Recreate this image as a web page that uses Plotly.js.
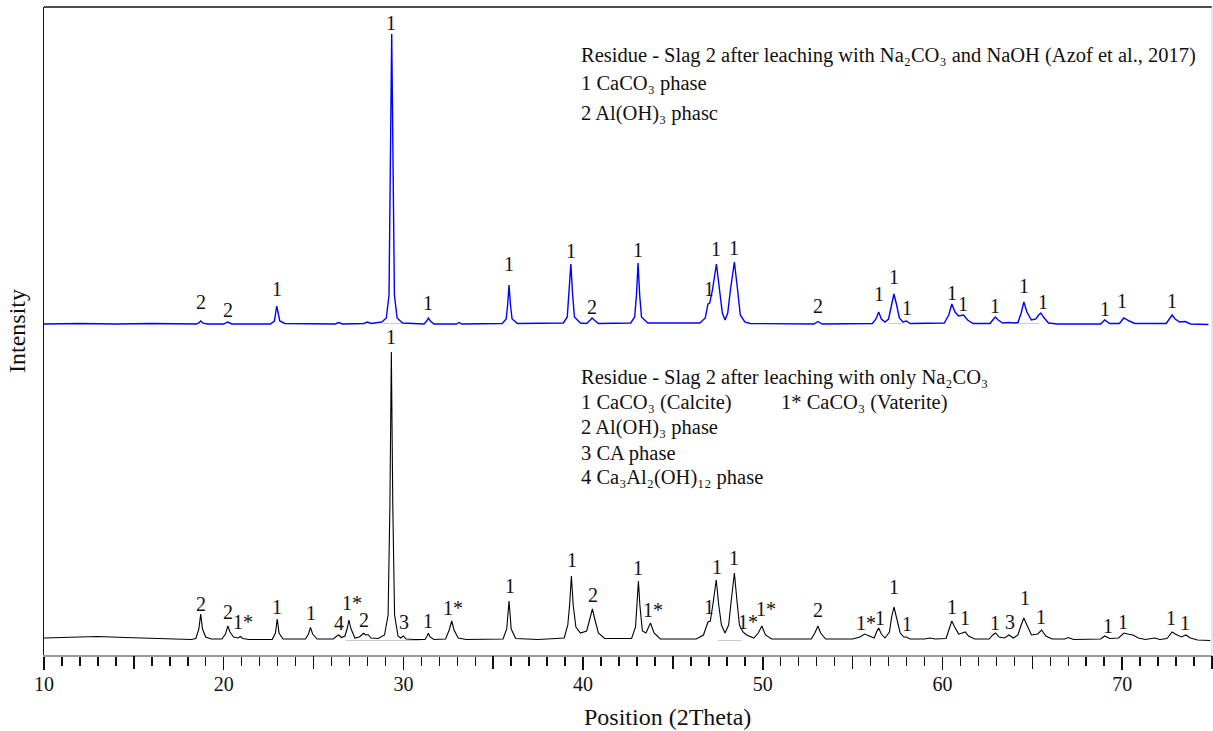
<!DOCTYPE html>
<html>
<head>
<meta charset="utf-8">
<script src="https://cdn.plot.ly/plotly-3.0.1.min.js"></script>
<style>html,body{margin:0;padding:0;background:#fff;}#chart{width:1213px;height:731px;}</style>
</head>
<body>
<div id="chart"></div>
<script>
// ---- Upper pattern (blue): leaching with Na2CO3 and NaOH ----
const blueX = [10,12,14,16,18.45,18.6,18.72,18.85,19.1,20.0,20.22,20.45,22.6,22.82,22.9,22.95,23.02,23.12,23.4,26.2,26.4,26.6,27.8,28.0,28.2,28.8,29.05,29.2,29.28,29.35,29.42,29.5,29.65,29.95,31.15,31.3,31.39,31.5,31.7,32.95,33.1,33.25,35.5,35.72,35.8,35.88,35.96,36.05,36.35,38.9,39.12,39.22,39.32,39.42,39.52,39.85,40.2,40.4,40.5,40.62,40.85,42.65,42.87,42.97,43.06,43.15,43.25,43.6,46.5,46.8,46.95,47.05,47.2,47.42,47.6,47.75,47.9,48.05,48.2,48.42,48.6,48.75,49.0,49.3,52.85,53.07,53.3,56.1,56.3,56.45,56.6,56.8,57.0,57.15,57.3,57.45,57.6,57.8,57.99,58.2,60.1,60.35,60.52,60.7,60.9,61.17,61.4,61.7,62.65,62.8,62.94,63.1,63.35,63.7,64.0,64.2,64.38,64.53,64.7,64.95,65.2,65.35,65.48,65.62,65.9,66.4,68.8,69.03,69.3,69.85,70.09,70.4,70.7,72.45,72.65,72.78,72.95,73.2,73.52,73.8,74.8];
const blueY = [331,331.5,331,331.5,331,331.8,334,331.8,331,331,333,331,331,334,343,349,343,334,331.5,331,332.5,331,331.5,333,331.5,333,337,360,500,621,500,360,337,332,331,334,337,334,331,331,332.5,331,331.5,336,350,370,350,336,331.5,332,338,360,391,360,338,332,331.5,335,337,335,331.5,332,338,360,392,360,338,332,332,337,351,352,365,391,365,342,335,342,365,393,365,340,333,331.5,331,333.5,331,331.5,336,343,336,333,336,350,361,350,337,333,334,331.5,332,340,351,343,339,340,335,331.5,331.5,335,338,335,332,332.5,332,332.5,342,353,343,335,336,340,342,338,332,331,331,335,331.5,331.5,337,334,331.5,331.5,336,340,336,333,333.5,331,330.5];

// ---- Lower pattern (black): leaching with only Na2CO3 ----
const blackX = [10,11.5,13,14.5,16,18.2,18.45,18.62,18.72,18.82,19.0,19.3,19.9,20.1,20.23,20.35,20.55,20.8,20.93,21.05,21.4,22.7,22.88,22.98,23.08,23.3,24.55,24.72,24.83,24.95,25.2,26.1,26.3,26.41,26.55,26.75,26.88,26.97,27.07,27.3,27.55,27.79,27.9,28.03,28.2,28.6,28.95,29.15,29.25,29.33,29.41,29.51,29.7,29.85,30.0,30.15,30.6,31.2,31.32,31.39,31.48,31.7,32.35,32.55,32.69,32.82,33.05,33.5,35.55,35.75,35.88,36.0,36.25,37.5,38.5,38.95,39.15,39.25,39.35,39.45,39.6,39.85,40.2,40.38,40.52,40.65,40.85,41.2,42.7,42.92,43.0,43.08,43.16,43.3,43.5,43.75,43.95,44.3,46.3,46.7,46.95,47.08,47.22,47.41,47.55,47.7,47.9,48.1,48.25,48.42,48.56,48.7,48.9,49.1,49.5,49.75,49.95,50.15,50.5,52.7,52.9,53.07,53.22,53.5,55.0,55.4,55.67,55.9,56.2,56.33,56.45,56.6,56.8,57.05,57.17,57.3,57.45,57.65,57.85,57.99,58.2,59.0,59.3,59.6,60.2,60.38,60.52,60.68,60.9,61.1,61.27,61.45,61.8,62.6,62.8,62.96,63.15,63.45,63.7,63.95,64.2,64.38,64.53,64.7,64.95,65.3,65.52,65.75,66.1,66.8,67.0,67.3,68.8,69.03,69.3,69.8,70.1,70.3,70.6,70.9,71.3,71.8,72.1,72.5,72.68,72.78,72.95,73.3,73.54,73.8,74.2,74.9];
const blackY = [17,18,18.5,17.5,16.5,15.5,16.5,26,41,26,18,16,16,21,29,23,18,17,18.5,16.5,15.5,15.5,22,36,22,16,16,21,27.7,21,16,16,19,20,17.5,19,27,35,27,17,18,21.7,20,20.5,17,16.5,20,40,150,303,150,40,19,17,19,16,15.5,15.5,19,21.7,18,15.5,16,25,34,25,17,15.5,16,26,54,26,16.5,15.5,16.5,17,30,50,79,50,28,22,24,36,46,36,22,16.5,16.5,28,50,74,50,24,22,32,22,16,16,20,33,34,50,75,50,30,22,30,55,82,55,30,23,20,17,22,29,20,16,16,22,29,22,16,16,18,21,19,17,23,27,21,17,23,38,48,36,22,18,18,16,16,17,16,16.5,26,34,28,21,22,23,19,16,16,20,22,18,17,20,17,20,30,37,30,20,21,25,19,16,16,17.5,15.5,16,19,16.5,17,22,21,20,17,15.5,17,15.5,16.5,21,23,21,18,20,17,15,14.5];

// ---- Faint background segments drawn under some peaks (null = gap) ----
const bgBlueX = [28.9,29.9,null,57.0,57.9,null,64.1,65.4];
const bgBlueY = [331.5,331.5,null,331.5,331.5,null,331.5,331.5];
const bgBlackX = [26.8,30.9,null,47.5,48.8];
const bgBlackY = [14.5,14.5,null,14.5,14.5];

// ---- Peak labels ----
const blueLblX = [18.72,20.22,22.95,29.33,31.39,35.88,39.32,40.52,43.06,47.0,47.42,48.42,53.07,56.47,57.3,58.0,60.55,61.17,62.94,64.53,65.59,69.03,69.97,72.78];
const blueLblY = [353,345,366,632,352,391,404,348,405,366,406,407,349,361,378,347,362,351,349,369,353,346,354,354];
const blueLblT = ['2','2','1','1','1','1','1','2','1','1','1','1','2','1','1','1','1','1','1','1','1','1','1','1'];

const blackLblX = [18.72,20.22,21.06,22.97,24.84,26.41,27.12,27.83,29.33,30.04,31.39,32.78,35.92,39.37,40.54,43.06,43.87,47.0,47.43,48.4,49.18,50.17,53.09,55.72,56.5,57.31,58.02,60.55,61.28,62.95,63.74,64.57,65.5,69.2,70.07,72.74,73.48];
const blackLblY = [51,43,33,48,42,32,52,35,318,33,34,47,69,95,60,87,45,48,88,97,33,46,45,32,37,68,31,48,37,32,33,57,38,29,33,37,32];
const blackLblT = ['2','2','1*','1','1','4','1*','2','1','3','1','1*','1','1','2','1','1*','1','1','1','1*','1*','2','1*','1','1','1','1','1','1','3','1','1','1','1','1','1'];

// ---- Legend texts ----
const legendText = [
  'Residue - Slag 2 after leaching with Na₂CO₃ and NaOH (Azof et al., 2017)',
  '1 CaCO₃ phase',
  '2 Al(OH)₃ phasc',
  'Residue - Slag 2 after leaching with only Na₂CO₃',
  '1 CaCO₃ (Calcite)',
  '1* CaCO₃ (Vaterite)',
  '2 Al(OH)₃ phase',
  '3 CA phase',
  '4 Ca₃Al₂(OH)₁₂ phase'
];
const legendX = [39.8,39.8,39.8,39.8,39.8,50.93,39.8,39.8,39.8];
const legendY = [600,572,542,278,253,253,228,202,178];

// ---- Axis ticks ----
const labelTicks = [10,20,30,40,50,60,70];
const midTicks = [15,25,35,45,55,65,75];

const FONT = 'Liberation Serif, Times New Roman, serif';

const annotations = [];
blueLblX.forEach((x,i)=>annotations.push({x:x,y:blueLblY[i],text:blueLblT[i],xref:'x',yref:'y',showarrow:false,xanchor:'center',yanchor:'middle',font:{family:FONT,size:20,color:'#111'}}));
blackLblX.forEach((x,i)=>annotations.push({x:x,y:blackLblY[i],text:blackLblT[i],xref:'x',yref:'y',showarrow:false,xanchor:'center',yanchor:'middle',font:{family:FONT,size:20,color:'#111'}}));
legendText.forEach((t,i)=>annotations.push({x:legendX[i],y:legendY[i],text:t,xref:'x',yref:'y',showarrow:false,xanchor:'left',yanchor:'middle',align:'left',font:{family:FONT,size:20.5,color:'#111'}}));
// x-axis title (sits right of centre in the reference)
annotations.push({x:44.7,y:-0.0957,xref:'x',yref:'paper',text:'Position (2Theta)',showarrow:false,xanchor:'center',yanchor:'middle',font:{family:FONT,size:24,color:'#111'}});

const traces = [
  {x:bgBlueX,y:bgBlueY,type:'scatter',mode:'lines',line:{color:'#c8c8ee',width:1},hoverinfo:'skip',connectgaps:false},
  {x:bgBlackX,y:bgBlackY,type:'scatter',mode:'lines',line:{color:'#c8c8c8',width:1},hoverinfo:'skip',connectgaps:false},
  {x:blueX,y:blueY,type:'scatter',mode:'lines',line:{color:'#0000ff',width:1.4},hoverinfo:'skip'},
  {x:blackX,y:blackY,type:'scatter',mode:'lines',line:{color:'#000000',width:1.1},hoverinfo:'skip'},
  {x:[],y:[],type:'scatter',mode:'lines',xaxis:'x2',yaxis:'y',hoverinfo:'skip'}
];

const layout = {
  width:1213,height:731,
  margin:{l:44,r:1,t:7,b:76},
  paper_bgcolor:'#fff',plot_bgcolor:'#fff',
  showlegend:false,
  font:{family:FONT,color:'#111'},
  xaxis:{
    range:[10,75],showgrid:false,zeroline:false,
    showline:true,linecolor:'#9a9a9a',linewidth:1.5,
    tickmode:'array',tickvals:labelTicks,ticktext:labelTicks.map(String),
    ticks:'outside',ticklen:13,tickwidth:1.5,tickcolor:'#111',ticklabelstandoff:-3,
    tickfont:{family:FONT,size:20,color:'#111'},
    minor:{tickmode:'linear',tick0:10,dtick:1,ticks:'outside',ticklen:9,tickwidth:1.5,tickcolor:'#111',showgrid:false}
  },
  xaxis2:{
    overlaying:'x',anchor:'y',side:'bottom',range:[10,75],
    showgrid:false,zeroline:false,showline:false,showticklabels:false,
    tickmode:'array',tickvals:midTicks,ticks:'outside',ticklen:13,tickwidth:1.5,tickcolor:'#111'
  },
  yaxis:{
    range:[0,648],showgrid:false,zeroline:false,
    showline:true,linecolor:'#111',linewidth:1.5,
    showticklabels:false,ticks:'',
    title:{text:'Intensity',font:{family:FONT,size:24,color:'#111'},standoff:10}
  },
  shapes:[
    {type:'line',xref:'paper',yref:'paper',x0:0,x1:1,y0:1,y1:1,line:{color:'#111',width:1.5}},
    {type:'line',xref:'paper',yref:'paper',x0:1,x1:1,y0:0,y1:1,line:{color:'#cccccc',width:1}}
  ],
  annotations:annotations
};

Plotly.newPlot('chart',traces,layout,{staticPlot:true,displayModeBar:false});
</script>
</body>
</html>
